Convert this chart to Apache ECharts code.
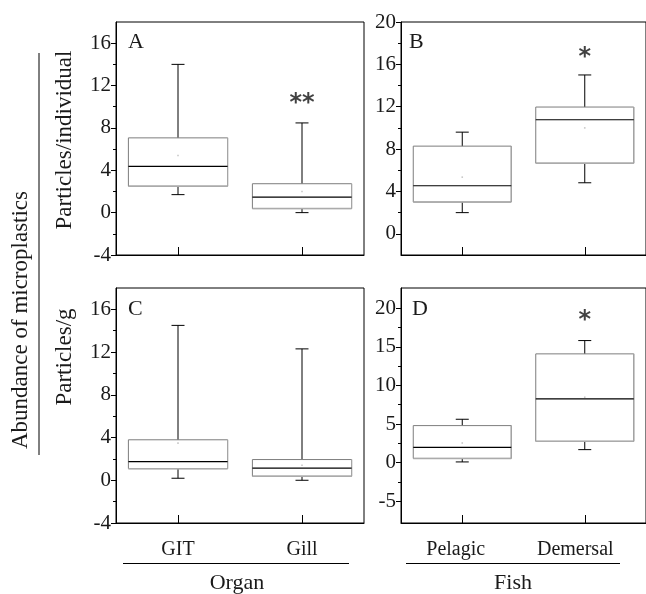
<!DOCTYPE html>
<html>
<head>
<meta charset="utf-8">
<script src="https://cdn.jsdelivr.net/npm/echarts@6/dist/echarts.min.js"></script>
<style>html,body{margin:0;padding:0;background:#fff;}#c{width:646px;height:594px;}</style>
</head>
<body>
<div id="c"></div>
<script>
// ---- data ----
const catsOrgan = ['GIT', 'Gill'];
const catsFish = ['Pelagic', 'Demersal'];

// Panel A: particles/individual by organ
const aLower = [1.7, 0.0];
const aQ1 = [2.5, 0.38];
const aMedian = [4.36, 1.47];
const aQ3 = [7.06, 2.73];
const aUpper = [14.0, 8.47];
const aMean = [5.4, 2.0];

// Panel B: particles/individual by fish habitat
const bLower = [2.0, 4.82];
const bQ1 = [3.0, 6.67];
const bMedian = [4.54, 10.77];
const bQ3 = [8.28, 11.97];
const bUpper = [9.6, 15.0];
const bMean = [5.35, 10.0];

// Panel C: particles/g by organ
const cLower = [0.19, 0.0];
const cQ1 = [1.09, 0.38];
const cMedian = [1.75, 1.13];
const cQ3 = [3.79, 1.94];
const cUpper = [14.5, 12.3];
const cMean = [3.48, 1.4];

// Panel D: particles/g by fish habitat
const dLower = [0.1, 1.69];
const dQ1 = [0.56, 2.76];
const dMedian = [1.99, 8.25];
const dQ3 = [4.8, 14.08];
const dUpper = [5.62, 15.8];
const dMean = [2.55, 8.47];

// significance marks
const starsA = ['', '**'];
const starYA = [null, 10.7];
const starsB = ['', '*'];
const starYB = [null, 17.0];
const starsD = ['', '*'];
const starYD = [null, 18.9];

// tick labels
const ticksAC = [-4, 0, 4, 8, 12, 16];
const minorAC = [-2, 2, 6, 10, 14];
const ticksB = [0, 4, 8, 12, 16, 20];
const minorB = [2, 6, 10, 14, 18];
const ticksD = [-5, 0, 5, 10, 15, 20];
const minorD = [-2.5, 2.5, 7.5, 12.5, 17.5];

// ---- chart ----
const FONT = 'Liberation Serif';
const TXT = '#1a1a1a';

function rows(lo, q1, med, q3, up, mean) {
  return lo.map((v, i) => [i, lo[i], q1[i], med[i], q3[i], up[i], mean[i]]);
}

function renderBox(params, api) {
  const i = api.value(0);
  const pLo = api.coord([i, api.value(1)]);
  const pQ1 = api.coord([i, api.value(2)]);
  const pMed = api.coord([i, api.value(3)]);
  const pQ3 = api.coord([i, api.value(4)]);
  const pUp = api.coord([i, api.value(5)]);
  const pMean = api.coord([i, api.value(6)]);
  const band = api.size([1, 0])[0];
  const hw = band * 0.4;
  const cap = 6.5;
  const x = pMed[0];
  const blk = { stroke: '#000', lineWidth: 1 };
  return {
    type: 'group',
    children: [
      { type: 'line', shape: { x1: x, y1: pQ3[1], x2: x, y2: pUp[1] }, style: blk },
      { type: 'line', shape: { x1: x - cap, y1: pUp[1], x2: x + cap, y2: pUp[1] }, style: blk },
      { type: 'line', shape: { x1: x, y1: pQ1[1], x2: x, y2: pLo[1] }, style: blk },
      { type: 'line', shape: { x1: x - cap, y1: pLo[1], x2: x + cap, y2: pLo[1] }, style: blk },
      { type: 'rect', shape: { x: x - hw, y: pQ3[1], width: hw * 2, height: pQ1[1] - pQ3[1] },
        style: { fill: 'rgba(255,255,255,0)', stroke: '#7d7d7d', lineWidth: 1 } },
      { type: 'line', shape: { x1: x - hw, y1: pQ1[1], x2: x + hw, y2: pQ1[1] }, style: { stroke: '#ababab', lineWidth: 1.5 } },
      { type: 'line', shape: { x1: x + hw, y1: pQ3[1], x2: x + hw, y2: pQ1[1] }, style: { stroke: '#a5a5a5', lineWidth: 1.2 } },
      { type: 'line', shape: { x1: x - hw, y1: pMed[1], x2: x + hw, y2: pMed[1] }, style: { stroke: '#000', lineWidth: 1.2 } },
      { type: 'rect', shape: { x: x - 0.8, y: pMean[1] - 0.8, width: 1.6, height: 1.6 }, style: { fill: '#c8c8c8' } }
    ]
  };
}

function starData(marks, ys) {
  const out = [];
  marks.forEach((m, i) => { if (m) out.push({ value: [i, ys[i]], name: m }); });
  return out;
}

const grids = [
  { left: 116, top: 22, width: 248, height: 233 },
  { left: 401, top: 22, width: 249, height: 233 },
  { left: 116, top: 288, width: 248, height: 235 },
  { left: 401, top: 288, width: 249, height: 235 }
].map(g => Object.assign(g, { show: true, borderColor: '#000', borderWidth: 1, backgroundColor: 'transparent' }));

function xAx(gi, data, showLabel, shifts) {
  return {
    gridIndex: gi, type: 'category', data: data, boundaryGap: true,
    axisLine: { show: true, onZero: false, lineStyle: { color: '#000', width: 1 } },
    axisTick: { show: true, inside: true, alignWithLabel: true, length: 8, lineStyle: { color: '#000' } },
    axisLabel: {
      show: showLabel, interval: 0, hideOverlap: false, margin: 17, color: TXT, fontFamily: FONT, fontSize: 20,
      formatter: (v, idx) => '{s' + idx + '|' + v + '}',
      rich: {
        s0: { fontFamily: FONT, fontSize: 20, color: TXT, padding: [0, shifts[0], 0, 0] },
        s1: { fontFamily: FONT, fontSize: 20, color: TXT, padding: [0, shifts[1], 0, 0] }
      }
    },
    splitLine: { show: false }
  };
}

function yMain(gi, min, max, ticks) {
  return {
    gridIndex: gi, type: 'value', min: min, max: max, position: 'left',
    axisLine: { show: true, onZero: false, lineStyle: { color: '#000', width: 1 } },
    axisTick: { show: true, inside: false, length: 5, customValues: ticks, lineStyle: { color: '#000' } },
    axisLabel: { show: true, customValues: ticks, margin: 5, color: TXT, fontFamily: FONT, fontSize: 21 },
    splitLine: { show: false }
  };
}
function yMinor(gi, min, max, ticks) {
  return {
    gridIndex: gi, type: 'value', min: min, max: max, position: 'left', offset: 0,
    axisLine: { show: false },
    axisTick: { show: true, inside: false, length: 3, customValues: ticks, lineStyle: { color: '#000' } },
    axisLabel: { show: false },
    splitLine: { show: false }
  };
}

const starLabel = { show: true, position: 'inside', formatter: p => p.name, fontSize: 24, fontWeight: 'bold', color: '#111', fontFamily: 'DejaVu Sans', offset: [0, 4] };

const option = {
  animation: false,
  backgroundColor: '#fff',
  grid: grids,
  xAxis: [
    xAx(0, catsOrgan, false, [0, 0]),
    xAx(1, catsFish, false, [0, 0]),
    xAx(2, catsOrgan, true, [0, 0]),
    xAx(3, catsFish, true, [13, 19])
  ],
  yAxis: [
    yMain(0, -4, 18, ticksAC), yMinor(0, -4, 18, minorAC),
    yMain(1, -2, 20, ticksB), yMinor(1, -2, 20, minorB),
    yMain(2, -4, 18, ticksAC), yMinor(2, -4, 18, minorAC),
    yMain(3, -7.8, 22.6, ticksD), yMinor(3, -7.8, 22.6, minorD)
  ],
  series: [
    { type: 'custom', xAxisIndex: 0, yAxisIndex: 0, renderItem: renderBox, encode: { x: 0, y: [1, 2, 3, 4, 5] }, data: rows(aLower, aQ1, aMedian, aQ3, aUpper, aMean) },
    { type: 'custom', xAxisIndex: 1, yAxisIndex: 2, renderItem: renderBox, encode: { x: 0, y: [1, 2, 3, 4, 5] }, data: rows(bLower, bQ1, bMedian, bQ3, bUpper, bMean) },
    { type: 'custom', xAxisIndex: 2, yAxisIndex: 4, renderItem: renderBox, encode: { x: 0, y: [1, 2, 3, 4, 5] }, data: rows(cLower, cQ1, cMedian, cQ3, cUpper, cMean) },
    { type: 'custom', xAxisIndex: 3, yAxisIndex: 6, renderItem: renderBox, encode: { x: 0, y: [1, 2, 3, 4, 5] }, data: rows(dLower, dQ1, dMedian, dQ3, dUpper, dMean) },
    { type: 'scatter', xAxisIndex: 0, yAxisIndex: 0, symbolSize: 0, data: starData(starsA, starYA), label: starLabel },
    { type: 'scatter', xAxisIndex: 1, yAxisIndex: 2, symbolSize: 0, data: starData(starsB, starYB), label: starLabel },
    { type: 'scatter', xAxisIndex: 3, yAxisIndex: 6, symbolSize: 0, data: starData(starsD, starYD), label: starLabel }
  ],
  graphic: [
    { type: 'text', left: 128, top: 31, style: { text: 'A', font: '22px "Liberation Serif"', fill: TXT } },
    { type: 'text', left: 409, top: 31, style: { text: 'B', font: '22px "Liberation Serif"', fill: TXT } },
    { type: 'text', left: 128, top: 298, style: { text: 'C', font: '22px "Liberation Serif"', fill: TXT } },
    { type: 'text', left: 412, top: 298, style: { text: 'D', font: '22px "Liberation Serif"', fill: TXT } },
    { type: 'text', x: 65, y: 140, rotation: Math.PI / 2, style: { text: 'Particles/individual', font: '23px "Liberation Serif"', fill: TXT, align: 'center', verticalAlign: 'middle' } },
    { type: 'text', x: 65, y: 357, rotation: Math.PI / 2, style: { text: 'Particles/g', font: '23px "Liberation Serif"', fill: TXT, align: 'center', verticalAlign: 'middle' } },
    { type: 'text', x: 21, y: 320, rotation: Math.PI / 2, style: { text: 'Abundance of microplastics', font: '23px "Liberation Serif"', fill: TXT, align: 'center', verticalAlign: 'middle' } },
    { type: 'line', shape: { x1: 39, y1: 53, x2: 39, y2: 455 }, style: { stroke: '#000', lineWidth: 1 } },
    { type: 'line', shape: { x1: 123, y1: 563.5, x2: 349, y2: 563.5 }, style: { stroke: '#000', lineWidth: 1 } },
    { type: 'line', shape: { x1: 406, y1: 563.5, x2: 620, y2: 563.5 }, style: { stroke: '#000', lineWidth: 1 } },
    { type: 'text', x: 237, y: 583, style: { text: 'Organ', font: '22px "Liberation Serif"', fill: TXT, align: 'center', verticalAlign: 'middle' } },
    { type: 'text', x: 513, y: 583, style: { text: 'Fish', font: '22px "Liberation Serif"', fill: TXT, align: 'center', verticalAlign: 'middle' } }
  ]
};

const chart = echarts.init(document.getElementById('c'), null, { renderer: 'canvas' });
chart.setOption(option);
</script>
</body>
</html>
